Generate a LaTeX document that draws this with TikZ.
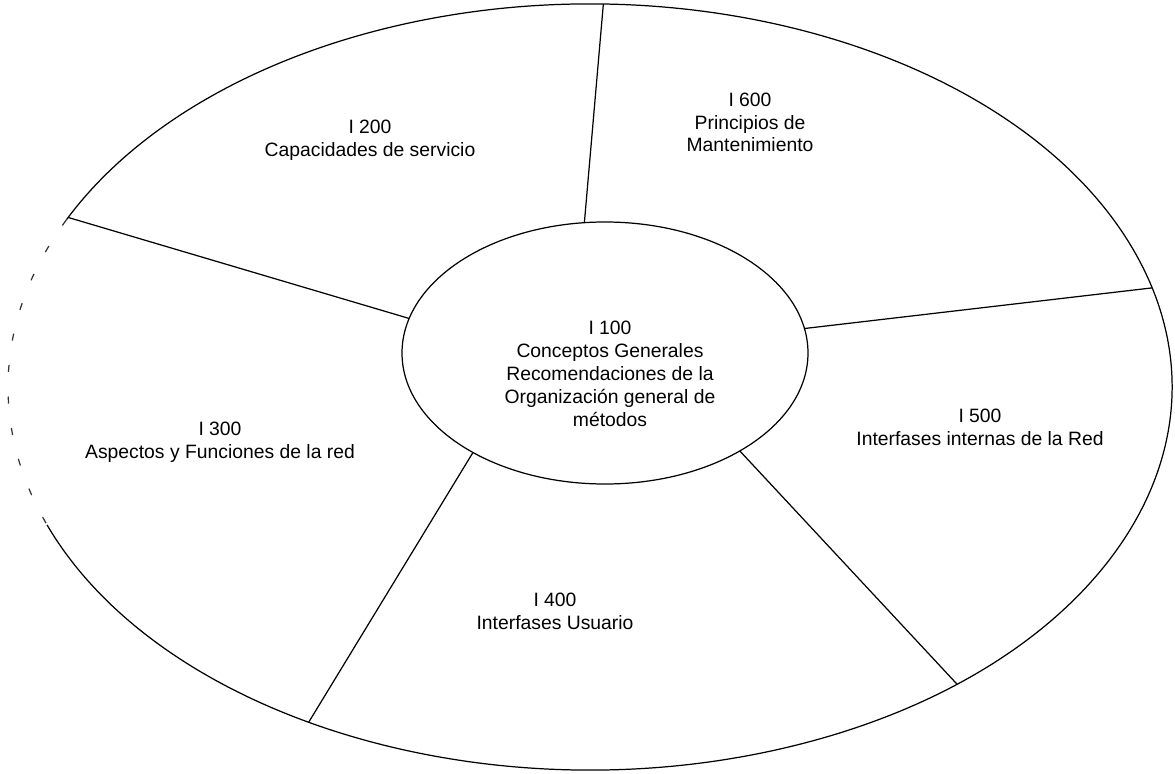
\documentclass[tikz,border=0pt]{standalone}
\usepackage{fontspec}
\setmainfont{Liberation Sans}
\usetikzlibrary{shapes.geometric}

\begin{document}
\begin{tikzpicture}[
    linea/.style={line width=0.7pt},
    rotulo/.style={align=center, font=\fontsize{11}{13}\selectfont, inner sep=0pt}]
  \useasboundingbox (0,0) rectangle (23.5,-15.48);

  % Ellipses
  \node[ellipse, minimum width=23.28cm, minimum height=15.32cm, inner sep=0pt, outer sep=0pt] (anillo) at (11.8,-7.74) {};
  \node[ellipse, draw, linea, minimum width=8.12cm, minimum height=5.24cm, inner sep=0pt, outer sep=0pt] (nucleo) at (12.1,-7.06) {};
  \draw[linea] ([shift={(201.1:11.64 and 7.66)}]anillo.center) arc[start angle=201.1, end angle=514.1, x radius=11.64, y radius=7.66];
  \draw[linea, black!80, dash pattern=on 4pt off 14pt] ([shift={(154.1:11.64 and 7.66)}]anillo.center) arc[start angle=154.1, end angle=201.1, x radius=11.64, y radius=7.66];

  % Spokes
  \draw[linea] (nucleo.99.5) -- (anillo.88.5);
  \draw[linea] (nucleo.170.7) -- (anillo.162.4);
  \draw[linea] (nucleo.7.4) -- (anillo.10.7);
  \draw[linea] (nucleo.-36.3) -- (anillo.-39.1);
  \draw[linea] (nucleo.217.1) -- (anillo.230.9);

  % Labels
  \node[rotulo] (t100) at (12.2,-7.48) {I 100\\Conceptos Generales\\Recomendaciones de la\\Organización general de\\métodos};
  \node[rotulo] (t200) at (7.4,-2.8) {I 200\\Capacidades de servicio};
  \node[rotulo] (t600) at (15.0,-2.45) {I 600\\Principios de\\Mantenimiento};
  \node[rotulo] (t300) at (4.4,-8.85) {I 300\\Aspectos y Funciones de la red};
  \node[rotulo] (t500) at (19.6,-8.55) {I 500\\Interfases internas de la Red};
  \node[rotulo] (t400) at (11.1,-12.23) {I 400\\Interfases Usuario};
\end{tikzpicture}
\end{document}
